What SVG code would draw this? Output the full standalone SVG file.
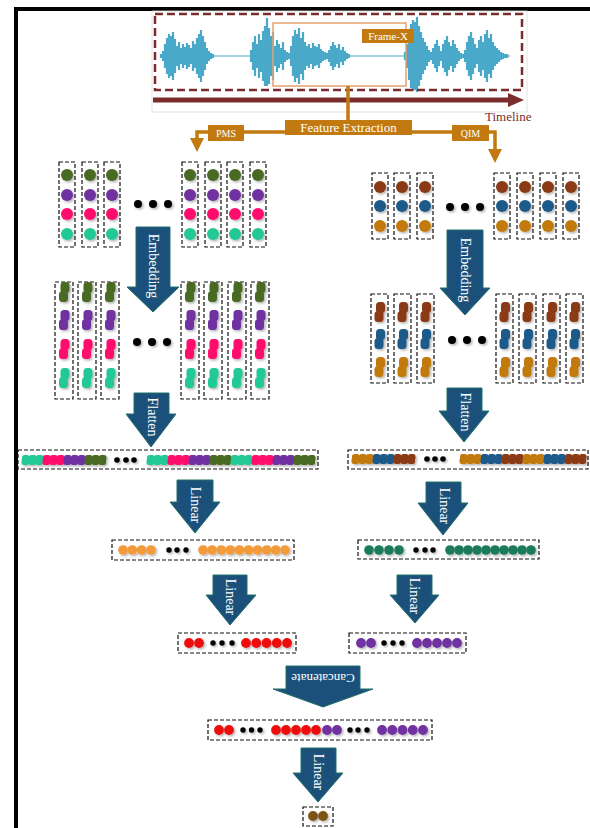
<svg xmlns="http://www.w3.org/2000/svg" xmlns:xlink="http://www.w3.org/1999/xlink" width="590" height="828" viewBox="0 0 590 828">
<style>
.dash{fill:#fff;stroke:#111;stroke-width:1.2;stroke-dasharray:4 2}
.barrow{fill:#1a5079;stroke:#23706a;stroke-width:1}
.lbl{font-family:"Liberation Serif","Times New Roman",serif;fill:#fff;font-size:14px}
.gold{stroke:#c27a10;stroke-width:3.5;fill:none}
.goldbox{fill:#c27a10}
.blk{fill:#000}
</style>
<defs>
<filter id="sh" x="-20%" y="-20%" width="150%" height="150%">
<feDropShadow dx="1.5" dy="1.5" stdDeviation="1" flood-color="#000" flood-opacity="0.3"/>
</filter>
<marker id="gah" viewBox="0 0 10 10" refX="5" refY="5" markerWidth="4" markerHeight="4" orient="auto" markerUnits="strokeWidth">
<path d="M0,0 L10,5 L0,10 z" fill="#c27a10"/>
</marker>
<g id="bb"><rect x="-3.5" y="-10" width="9" height="11" rx="3.5"/><rect x="-5" y="-1" width="9" height="11" rx="3.5"/></g>
<g id="sb"><rect x="-3.5" y="-5" width="7.5" height="6" rx="2.5"/><rect x="-4" y="-1.5" width="7.5" height="6.5" rx="2.5"/></g>
<g id="t3"><use href="#sb" x="3.5"/><use href="#sb" x="10.5"/><use href="#sb" x="17.5"/></g>
<g id="ell3" class="blk" filter="url(#sh)"><circle cx="0" cy="0" r="4"/><circle cx="15" cy="0" r="4"/><circle cx="30" cy="0" r="4"/></g>
<g id="pmsCol"><rect x="0" y="0" width="16" height="85" class="dash"/><g filter="url(#sh)"><circle cx="8" cy="13" r="6" fill="#4a6a22"/><circle cx="8" cy="33" r="6" fill="#7030a0"/><circle cx="8" cy="52" r="6" fill="#ff0a6c"/><circle cx="8" cy="72" r="6" fill="#22c896"/></g></g>
<g id="qimCol"><rect x="0" y="0" width="16" height="66" class="dash"/><g filter="url(#sh)"><circle cx="8" cy="14" r="6" fill="#8a3a14"/><circle cx="8" cy="33" r="6" fill="#1f5a8a"/><circle cx="8" cy="53" r="6" fill="#c27a10"/></g></g>
<g id="pmsEmb"><rect x="0" y="0" width="18" height="117" class="dash"/><g filter="url(#sh)"><use href="#bb" x="9" y="10" fill="#4a6a22"/><use href="#bb" x="9" y="38" fill="#7030a0"/><use href="#bb" x="9" y="67" fill="#ff0a6c"/><use href="#bb" x="9" y="96" fill="#22c896"/></g></g>
<g id="qimEmb"><rect x="0" y="0" width="17" height="89" class="dash"/><g filter="url(#sh)"><use href="#bb" x="8.5" y="18" fill="#8a3a14"/><use href="#bb" x="8.5" y="45" fill="#1f5a8a"/><use href="#bb" x="8.5" y="73" fill="#c27a10"/></g></g>
</defs>
<rect width="590" height="828" fill="#fff"/>
<g id="border" fill="none" stroke="#000" stroke-width="4">
<path d="M16,828 V9 H590"/>
</g>
<g id="audio">
<rect x="152" y="11" width="375" height="101" fill="none" stroke="#dcdcdc" stroke-width="0.8"/>
<path d="M161,56H510" stroke="#4aa9c9" stroke-width="1.2"/>
<path stroke="#4aa9c9" stroke-width="2.2" fill="none" d="M161 54V58M163 51V61M165 44V68M167 38V74M169 34V78M171 36V76M173 32V80M175 39V73M177 46V66M179 42V70M181 48V64M183 44V68M185 47V65M187 43V69M189 45V67M191 48V64M193 41V71M195 44V68M197 38V74M199 34V78M201 30V82M203 36V76M205 42V70M207 48V64M209 51V61M211 53V59M213 54V58M251 50V62M253 42V70M255 36V76M257 44V68M259 34V78M261 40V72M263 31V81M265 26V86M267 18V86M269 28V84M271 36V76M273 32V80M275 46V66M277 40V72M279 44V68M281 48V64M283 42V70M285 50V62M287 52V60M289 53V59M291 46V66M293 36V76M295 30V82M297 34V78M299 28V84M301 38V74M303 32V80M305 42V70M307 46V66M309 44V68M311 48V64M313 43V69M315 46V66M317 47V65M319 44V68M321 49V63M323 51V61M325 52V60M327 53V59M329 50V62M331 46V66M333 42V70M335 45V67M337 48V64M339 44V68M341 50V62M343 47V65M345 51V61M347 53V59M349 54V58M405 52V60M407 44V68M409 32V80M411 24V88M413 20V91M415 22V90M417 17V92M419 26V86M421 32V80M423 38V74M425 42V70M427 46V66M429 50V62M431 52V60M433 48V64M435 44V68M437 40V72M439 46V66M441 51V61M443 44V68M445 40V72M447 36V76M449 42V70M451 46V66M453 40V72M455 44V68M457 48V64M459 51V61M461 53V59M463 54V58M465 50V62M467 42V70M469 36V76M471 32V80M473 38V74M475 44V68M477 48V64M479 40V72M481 36V76M483 42V70M485 34V78M487 30V82M489 38V74M491 34V78M493 42V70M495 46V66M497 48V64M499 50V62M501 52V60M503 53V59M505 54V58M507 54V58"/>
<rect x="155" y="14" width="367" height="76" fill="none" stroke="#7b2d2d" stroke-width="2.5" stroke-dasharray="8 4"/>
<rect x="273" y="23" width="133" height="63" fill="none" stroke="#e8a070" stroke-width="1.5"/>
<rect x="362" y="29" width="52" height="14" class="goldbox"/>
<text x="388" y="40" class="lbl" text-anchor="middle" style="font-size:11px">Frame-X</text>
<path d="M153,100 H510" stroke="#7b2d2d" stroke-width="5"/>
<path d="M508,93 L524,100 L508,107 z" fill="#7b2d2d"/>
<text x="485" y="121" font-family="Liberation Serif, Times New Roman, serif" font-size="13" fill="#7b2d2d">Timeline</text>
</g>
<g id="connectors">
<path class="gold" d="M348,86 V121"/>
<path class="gold" d="M348,132 H197 V145" marker-end="url(#gah)"/>
<path class="gold" d="M348,132 H495 V156" marker-end="url(#gah)"/>
<polygon class="barrow" points="136,227 170,227 170,287 179,287 153,312 127,287 136,287"/>
<polygon class="barrow" points="447,230 483,230 483,288 490,288 465,315 440,288 447,288"/>
<polygon class="barrow" points="134,393 169,393 169,414 176,414 151,447 126,414 134,414"/>
<polygon class="barrow" points="447,388 482,388 482,411 489,411 464,442 439,411 447,411"/>
<polygon class="barrow" points="177,480 213,480 213,502 220,502 195,533 170,502 177,502"/>
<polygon class="barrow" points="213,575 247,575 247,595 256,595 230,625 206,595 213,595"/>
<polygon class="barrow" points="426,482 461,482 461,503 468,503 443,535 418,503 426,503"/>
<polygon class="barrow" points="397,575 432,575 432,595 439,595 415,623 390,595 397,595"/>
<polygon class="barrow" points="286,666 360,666 360,689 373,689 323,707 273,689 286,689"/>
<polygon class="barrow" points="301,748 336,748 336,773 343,773 318,802 293,773 301,773"/>
<text class="lbl" transform="translate(153,266) rotate(90)" text-anchor="middle" dominant-baseline="central">Embedding</text>
<text class="lbl" transform="translate(465,270) rotate(90)" text-anchor="middle" dominant-baseline="central">Embedding</text>
<text class="lbl" transform="translate(152,417) rotate(90)" text-anchor="middle" dominant-baseline="central">Flatten</text>
<text class="lbl" transform="translate(465,412) rotate(90)" text-anchor="middle" dominant-baseline="central">Flatten</text>
<text class="lbl" transform="translate(195,505) rotate(90)" text-anchor="middle" dominant-baseline="central">Linear</text>
<text class="lbl" transform="translate(230,597) rotate(90)" text-anchor="middle" dominant-baseline="central">Linear</text>
<text class="lbl" transform="translate(444,506) rotate(90)" text-anchor="middle" dominant-baseline="central">Linear</text>
<text class="lbl" transform="translate(414,596) rotate(90)" text-anchor="middle" dominant-baseline="central">Linear</text>
<text class="lbl" transform="translate(318,772) rotate(90)" text-anchor="middle" dominant-baseline="central">Linear</text>
<text class="lbl" transform="translate(323,678) rotate(180)" text-anchor="middle" dominant-baseline="central" style="font-size:13px">Cancatenate</text>
</g>
<g id="feature-extraction">
<rect x="285" y="120" width="127" height="15" class="goldbox"/>
<text x="348.5" y="132" class="lbl" text-anchor="middle" style="font-size:13px">Feature Extraction</text>
</g>
<g id="pms-label">
<rect x="208" y="125" width="36" height="16" class="goldbox"/>
<text x="226" y="137" class="lbl" text-anchor="middle" style="font-size:10px">PMS</text>
</g>
<g id="qim-label">
<rect x="452" y="125" width="37" height="16" class="goldbox"/>
<text x="470.5" y="137" class="lbl" text-anchor="middle" style="font-size:10px">QIM</text>
</g>
<g id="pms-features">
<use href="#pmsCol" x="59" y="162"/><use href="#pmsCol" x="82" y="162"/><use href="#pmsCol" x="104" y="162"/>
<use href="#ell3" x="138" y="204"/>
<use href="#pmsCol" x="182" y="162"/><use href="#pmsCol" x="205" y="162"/><use href="#pmsCol" x="227" y="162"/><use href="#pmsCol" x="250" y="162"/>
</g>
<g id="qim-features">
<use href="#qimCol" x="372" y="173"/><use href="#qimCol" x="394" y="173"/><use href="#qimCol" x="417" y="173"/>
<use href="#ell3" x="450" y="207"/>
<use href="#qimCol" x="494" y="173"/><use href="#qimCol" x="517" y="173"/><use href="#qimCol" x="540" y="173"/><use href="#qimCol" x="563" y="173"/>
</g>
<g id="pms-embedded">
<use href="#pmsEmb" x="55" y="282"/><use href="#pmsEmb" x="78" y="282"/><use href="#pmsEmb" x="101" y="282"/>
<use href="#ell3" x="137" y="342"/>
<use href="#pmsEmb" x="181" y="282"/><use href="#pmsEmb" x="204" y="282"/><use href="#pmsEmb" x="228" y="282"/><use href="#pmsEmb" x="251" y="282"/>
</g>
<g id="qim-embedded">
<use href="#qimEmb" x="371" y="294"/><use href="#qimEmb" x="394" y="294"/><use href="#qimEmb" x="417" y="294"/>
<use href="#ell3" x="452" y="340"/>
<use href="#qimEmb" x="496" y="294"/><use href="#qimEmb" x="519" y="294"/><use href="#qimEmb" x="543" y="294"/><use href="#qimEmb" x="566" y="294"/>
</g>
<g id="pms-flatten">
<rect x="18" y="450" width="300" height="19" class="dash"/>
<g filter="url(#sh)">
<use href="#t3" x="22" y="460" fill="#22c896"/><use href="#t3" x="43" y="460" fill="#ff0a6c"/><use href="#t3" x="64" y="460" fill="#7030a0"/><use href="#t3" x="85" y="460" fill="#4a6a22"/>
<circle cx="117" cy="460" r="2.8"/><circle cx="126" cy="460" r="2.8"/><circle cx="134" cy="460" r="2.8"/>
<use href="#t3" x="147" y="460" fill="#22c896"/><use href="#t3" x="168" y="460" fill="#ff0a6c"/><use href="#t3" x="189" y="460" fill="#7030a0"/><use href="#t3" x="210" y="460" fill="#4a6a22"/>
<use href="#t3" x="231" y="460" fill="#22c896"/><use href="#t3" x="252" y="460" fill="#ff0a6c"/><use href="#t3" x="273" y="460" fill="#7030a0"/><use href="#t3" x="294" y="460" fill="#4a6a22"/>
</g>
</g>
<g id="qim-flatten">
<rect x="348" y="450" width="240" height="19" class="dash"/>
<g filter="url(#sh)">
<use href="#t3" x="352" y="459" fill="#c27a10"/><use href="#t3" x="373" y="459" fill="#1f5a8a"/><use href="#t3" x="394" y="459" fill="#8a3a14"/>
<circle cx="427" cy="459" r="2.8"/><circle cx="435" cy="459" r="2.8"/><circle cx="443" cy="459" r="2.8"/>
<use href="#t3" x="460" y="459" fill="#c27a10"/><use href="#t3" x="481" y="459" fill="#1f5a8a"/><use href="#t3" x="502" y="459" fill="#8a3a14"/>
<use href="#t3" x="523" y="459" fill="#c27a10"/><use href="#t3" x="544" y="459" fill="#1f5a8a"/><use href="#t3" x="565" y="459" fill="#8a3a14"/>
</g>
</g>
<g id="pms-linear1">
<rect x="112" y="540" width="182" height="20" class="dash"/>
<g filter="url(#sh)" fill="#f39a3a">
<circle cx="123" cy="550" r="4.8"/><circle cx="132.3" cy="550" r="4.8"/><circle cx="141.6" cy="550" r="4.8"/><circle cx="151" cy="550" r="4.8"/>
<circle cx="169" cy="550" r="2.7" fill="#000"/><circle cx="177" cy="550" r="2.7" fill="#000"/><circle cx="186" cy="550" r="2.7" fill="#000"/>
<circle cx="203" cy="550" r="4.8"/><circle cx="212.1" cy="550" r="4.8"/><circle cx="221.2" cy="550" r="4.8"/><circle cx="230.3" cy="550" r="4.8"/><circle cx="239.4" cy="550" r="4.8"/><circle cx="248.5" cy="550" r="4.8"/><circle cx="257.6" cy="550" r="4.8"/><circle cx="266.7" cy="550" r="4.8"/><circle cx="275.8" cy="550" r="4.8"/><circle cx="285" cy="550" r="4.8"/>
</g>
</g>
<g id="pms-linear2">
<rect x="178" y="633" width="118" height="20" class="dash"/>
<g filter="url(#sh)" fill="#ee1111">
<circle cx="189" cy="643" r="4.9"/><circle cx="199" cy="643" r="4.9"/>
<circle cx="213" cy="643" r="2.7" fill="#000"/><circle cx="222" cy="643" r="2.7" fill="#000"/><circle cx="232" cy="643" r="2.7" fill="#000"/>
<circle cx="246" cy="643" r="4.9"/><circle cx="256.25" cy="643" r="4.9"/><circle cx="266.5" cy="643" r="4.9"/><circle cx="276.75" cy="643" r="4.9"/><circle cx="287" cy="643" r="4.9"/>
</g>
</g>
<g id="qim-linear1">
<rect x="358" y="540" width="181" height="19" class="dash"/>
<g filter="url(#sh)" fill="#1e7a5c">
<circle cx="369" cy="550" r="4.8"/><circle cx="379" cy="550" r="4.8"/><circle cx="389" cy="550" r="4.8"/><circle cx="399" cy="550" r="4.8"/>
<circle cx="416" cy="550" r="2.7" fill="#000"/><circle cx="425" cy="550" r="2.7" fill="#000"/><circle cx="433" cy="550" r="2.7" fill="#000"/>
<circle cx="450" cy="550" r="4.8"/><circle cx="459" cy="550" r="4.8"/><circle cx="468" cy="550" r="4.8"/><circle cx="477" cy="550" r="4.8"/><circle cx="486" cy="550" r="4.8"/><circle cx="495" cy="550" r="4.8"/><circle cx="504" cy="550" r="4.8"/><circle cx="513" cy="550" r="4.8"/><circle cx="522" cy="550" r="4.8"/><circle cx="531" cy="550" r="4.8"/>
</g>
</g>
<g id="qim-linear2">
<rect x="349" y="633" width="117" height="20" class="dash"/>
<g filter="url(#sh)" fill="#7030a0">
<circle cx="361" cy="643" r="4.9"/><circle cx="371" cy="643" r="4.9"/>
<circle cx="384" cy="643" r="2.7" fill="#000"/><circle cx="393" cy="643" r="2.7" fill="#000"/><circle cx="402" cy="643" r="2.7" fill="#000"/>
<circle cx="417" cy="643" r="4.9"/><circle cx="427" cy="643" r="4.9"/><circle cx="437" cy="643" r="4.9"/><circle cx="447" cy="643" r="4.9"/><circle cx="457" cy="643" r="4.9"/>
</g>
</g>
<g id="concatenated">
<rect x="208" y="720" width="224" height="20" class="dash"/>
<g filter="url(#sh)">
<g fill="#ee1111"><circle cx="219" cy="730" r="4.9"/><circle cx="229" cy="730" r="4.9"/>
<circle cx="276" cy="730" r="4.9"/><circle cx="286" cy="730" r="4.9"/><circle cx="296" cy="730" r="4.9"/><circle cx="306" cy="730" r="4.9"/><circle cx="316" cy="730" r="4.9"/></g>
<g fill="#000"><circle cx="243" cy="730" r="2.7"/><circle cx="251.5" cy="730" r="2.7"/><circle cx="260" cy="730" r="2.7"/>
<circle cx="350" cy="730" r="2.7"/><circle cx="358" cy="730" r="2.7"/><circle cx="367" cy="730" r="2.7"/></g>
<g fill="#7030a0"><circle cx="327" cy="730" r="4.9"/><circle cx="337" cy="730" r="4.9"/>
<circle cx="382" cy="730" r="4.9"/><circle cx="392.25" cy="730" r="4.9"/><circle cx="402.5" cy="730" r="4.9"/><circle cx="412.75" cy="730" r="4.9"/><circle cx="423" cy="730" r="4.9"/></g>
</g>
</g>
<g id="output">
<rect x="303" y="807" width="30" height="19" class="dash"/>
<g filter="url(#sh)" fill="#7e5214"><circle cx="313" cy="816" r="4.9"/><circle cx="323" cy="816" r="4.9"/></g>
</g>
</svg>
